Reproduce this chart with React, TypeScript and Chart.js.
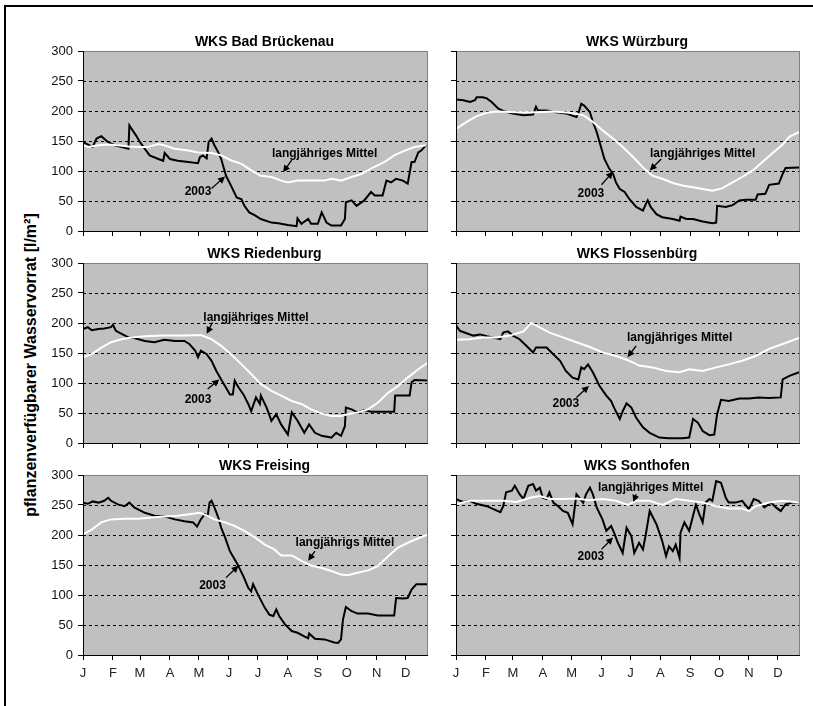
import React, { useEffect, useRef } from 'react';
import { Chart, registerables } from 'chart.js';

Chart.register(...registerables);

// ---------- axes ----------
const MONTH_START_DAYS = [0, 31, 59, 90, 120, 151, 181, 212, 243, 273, 304, 334];
const MONTH_LABELS = ['J', 'F', 'M', 'A', 'M', 'J', 'J', 'A', 'S', 'O', 'N', 'D'];
const X_MAX_DAY = 357;
const Y_MIN = 0;
const Y_MAX = 300;
const Y_STEP = 50;
const GRID_VALUES = [50, 100, 150, 200, 250];

const Y_TITLE = 'pflanzenverfügbarer Wasservorrat [l/m²]';

// ---------- data: [day of year, l/m²] ----------
type Pt = [number, number];

const brueckenau2003: Pt[] = [[0,148],[10,140],[14,154],[19,158],[26,148],[33,143],[47,137],[48,176],[52,166],[55,159],[59,148],[64,137],[69,126],[78,120],[83,117],[84.5,130],[90,120],[98,117],[109,115],[119,113],[121,123],[124,126],[128,121],[130,148],[133,154],[136,143],[140,131],[143,120],[148,92],[153,76],[159,56],[164,53],[167,42],[172,31],[178,26],[184,20],[195,14],[202,13],[212,10],[221,8],[222,21],[226,12],[233,20],[236,12],[243,12],[247,31],[252,14],[257,9],[267,9],[271,20],[272,48],[278,51],[283,42],[291,51],[298,65],[302,59],[310,59],[314,84],[319,81],[324,87],[331,84],[336,79],[340,115],[343,115],[347,131],[350,134],[355,143]];
const brueckenauMittel: Pt[] = [[0,143],[5,140],[16,143],[26,144],[36,143],[47,141],[57,140],[67,140],[78,145],[84,143],[95,137],[109,134],[119,131],[133,130],[143,126],[153,118],[164,112],[174,101],[184,92],[195,90],[205,84],[212,81],[222,84],[236,84],[250,84],[257,87],[267,84],[278,90],[288,95],[298,104],[312,115],[322,126],[333,134],[343,140],[355,143]];

const wuerzburg2003: Pt[] = [[0,219],[7.6,218],[14.5,215],[19.7,218],[21.4,223],[28,223],[32,221],[37,215],[44,204],[49,200],[59,196],[70,193],[80,194],[83,207],[85,201],[94,201],[104,198],[114,196],[125,190],[127,196],[130,212],[133,209],[139,198],[142,182],[146,165],[151,137],[154,120],[159,104],[163,95],[166,81],[170,70],[175,65],[180,53],[187,40],[194,34],[197,45],[199,51],[202,40],[208,28],[214,23],[225,20],[232,17],[233,24],[239,20],[246,20],[256,16],[266,13],[270,14],[271,42],[280,40],[287,43],[294,51],[301,52],[311,52],[313,61],[321,62],[325,77],[335,79],[339,95],[342,105],[356,106]];
const wuerzburgMittel: Pt[] = [[0,170],[11,182],[21,191],[32,197],[42,199],[63,198],[83,198],[101,199],[118,197],[132,193],[142,182],[152,168],[163,154],[173,140],[184,123],[194,106],[204,92],[214,87],[225,80],[235,76],[246,73],[256,70],[266,67],[276,71],[287,81],[297,90],[308,101],[318,115],[328,129],[339,144],[346,157],[356,165]];

const riedenburg2003: Pt[] = [[0,190],[5,193],[9,188],[16,190],[22,191],[29,193],[31,197],[34,187],[40,182],[47,176],[53,175],[64,170],[74,168],[84,172],[95,170],[105,170],[110,165],[116,154],[119,143],[122,154],[128,148],[133,137],[138,120],[143,106],[148,92],[152,81],[155,81],[157,104],[160,95],[166,81],[171,65],[174,53],[179,76],[183,65],[184,79],[190,59],[195,37],[200,48],[205,31],[212,14],[216,51],[222,37],[229,17],[234,31],[240,17],[247,12],[257,9],[262,17],[267,12],[271,28],[272,59],[278,56],[284,51],[291,55],[298,52],[322,52],[323,79],[338,79],[340,101],[343,105],[357,104]];
const riedenburgMittel: Pt[] = [[0,143],[9,148],[19,159],[29,168],[40,173],[50,176],[64,178],[84,179],[105,179],[122,180],[133,173],[143,162],[153,148],[164,131],[174,115],[184,98],[195,87],[205,79],[216,70],[226,65],[236,56],[247,49],[257,45],[267,45],[274,48],[284,51],[295,56],[305,67],[316,84],[326,95],[336,109],[347,123],[357,134]];

const flossenbuerg2003: Pt[] = [[0,196],[4,187],[11,183],[18,179],[25,181],[32,178],[46,173],[49,184],[54,186],[59,179],[66,173],[73,162],[80,151],[83,159],[94,159],[101,148],[108,137],[114,120],[121,109],[127,106],[130,126],[133,123],[137,131],[142,118],[149,95],[156,79],[161,70],[164,59],[170,40],[173,53],[177,66],[182,59],[187,42],[194,26],[201,17],[211,9],[221,8],[235,8],[242,9],[246,40],[251,34],[256,20],[263,13],[268,14],[271,48],[275,72],[283,70],[294,74],[304,74],[314,76],[325,75],[337,76],[339,106],[346,112],[356,118]];
const flossenbuergMittel: Pt[] = [[0,172],[14,173],[28,176],[42,176],[56,179],[70,186],[78,200],[83,196],[97,184],[111,176],[125,168],[139,160],[152,151],[166,145],[180,137],[190,129],[204,126],[218,120],[232,118],[242,123],[256,120],[270,126],[283,131],[297,137],[311,145],[325,157],[339,165],[356,175]];

const freising2003: Pt[] = [[0,254],[5,252],[10,256],[16,254],[22,257],[26,262],[29,257],[36,251],[43,248],[48,254],[53,246],[64,237],[74,232],[84,231],[95,226],[105,223],[114,221],[118,214],[122,226],[126,235],[129,232],[131,254],[133,257],[136,246],[140,229],[143,212],[147,196],[152,173],[157,159],[160,151],[166,131],[171,112],[174,106],[176,118],[181,101],[188,79],[193,67],[197,65],[200,76],[203,65],[209,51],[216,40],[222,37],[229,31],[233,28],[234,36],[240,27],[250,26],[260,21],[264,20],[267,26],[269,59],[272,80],[278,73],[284,69],[295,69],[305,66],[322,66],[324,95],[331,94],[336,95],[340,109],[345,118],[357,118]];
const freisingMittel: Pt[] = [[0,201],[9,209],[19,221],[29,226],[43,227],[57,227],[71,229],[84,231],[98,232],[112,235],[121,237],[129,232],[136,226],[147,221],[157,215],[167,207],[178,196],[188,184],[198,176],[205,166],[216,166],[226,157],[236,149],[247,145],[257,140],[267,134],[274,133],[284,137],[295,141],[305,148],[316,165],[326,179],[340,190],[357,201]];

const sonthofen2003: Pt[] = [[0,260],[4,257],[8,255],[14,257],[21,252],[32,248],[46,238],[49,248],[52,271],[58,274],[61,282],[66,268],[70,260],[75,282],[80,285],[83,274],[87,279],[90,262],[94,260],[97,271],[101,254],[106,248],[111,240],[116,237],[121,218],[125,268],[128,262],[132,254],[135,268],[139,279],[142,268],[146,246],[152,226],[156,207],[161,215],[164,204],[168,187],[173,170],[177,212],[182,198],[185,170],[190,187],[194,176],[197,201],[201,240],[208,218],[214,190],[218,165],[221,181],[225,173],[228,184],[232,162],[233,204],[237,221],[242,207],[246,232],[249,251],[252,237],[256,221],[259,254],[263,260],[266,257],[270,290],[275,287],[280,262],[283,254],[290,254],[297,257],[304,243],[309,260],[314,257],[320,246],[327,254],[332,246],[337,240],[342,251],[349,254],[356,254]];
const sonthofenMittel: Pt[] = [[0,251],[14,257],[35,257],[49,257],[63,255],[77,262],[87,265],[97,260],[111,260],[125,261],[138,258],[152,260],[166,257],[178,250],[187,257],[201,257],[214,250],[228,260],[242,257],[256,254],[270,248],[283,244],[297,244],[304,240],[311,248],[325,254],[339,257],[356,254]];

// ---------- panels ----------
interface Note { text: string; at: Pt; from: Pt; to: Pt }
interface Panel {
  title: string;
  mean: Pt[];
  y2003: Pt[];
  notes: Note[];
  col: number;
  row: number;
}

const PANELS: Panel[] = [
  { title: 'WKS Bad Brückenau', mean: brueckenauMittel, y2003: brueckenau2003, col: 0, row: 0,
    notes: [
      { text: 'langjähriges Mittel', at: [250, 129], from: [216, 118], to: [207, 98] },
      { text: '2003', at: [119, 65], from: [133, 71], to: [147, 91] },
    ] },
  { title: 'WKS Würzburg', mean: wuerzburgMittel, y2003: wuerzburg2003, col: 1, row: 0,
    notes: [
      { text: 'langjähriges Mittel', at: [256, 129], from: [213, 120], to: [201, 101] },
      { text: '2003', at: [140, 62], from: [151, 77], to: [163, 99] },
    ] },
  { title: 'WKS Riedenburg', mean: riedenburgMittel, y2003: riedenburg2003, col: 0, row: 1,
    notes: [
      { text: 'langjähriges Mittel', at: [179, 209], from: [134, 201], to: [128, 182] },
      { text: '2003', at: [119, 73], from: [129, 90], to: [141, 106] },
    ] },
  { title: 'WKS Flossenbürg', mean: flossenbuergMittel, y2003: flossenbuerg2003, col: 1, row: 1,
    notes: [
      { text: 'langjähriges Mittel', at: [232, 175], from: [187, 162], to: [178, 143] },
      { text: '2003', at: [114, 65], from: [125, 76], to: [138, 95] },
    ] },
  { title: 'WKS Freising', mean: freisingMittel, y2003: freising2003, col: 0, row: 2,
    notes: [
      { text: 'langjährigs Mittel', at: [271, 187], from: [240, 173], to: [233, 157] },
      { text: '2003', at: [134, 115], from: [148, 129], to: [161, 149] },
    ] },
  { title: 'WKS Sonthofen', mean: sonthofenMittel, y2003: sonthofen2003, col: 1, row: 2,
    notes: [
      { text: 'langjähriges Mittel', at: [202, 279], from: [187, 268], to: [184, 255] },
      { text: '2003', at: [140, 164], from: [151, 176], to: [163, 196] },
    ] },
];

// ---------- layout ----------
const FONT = '"Liberation Sans", Arial, Helvetica, sans-serif';
const COL_PLOT_LEFT = [83, 456];
const COL_PLOT_WIDTH = [345, 344];
const ROW_PLOT_TOP = [51, 263, 475];
const PLOT_HEIGHT = 180;
const Y_AXIS_W = 40;
const TOP_PAD = 30;
const RIGHT_PAD = 4;
const BOTTOM_H = 30;

function drawArrow(ctx: CanvasRenderingContext2D, x1: number, y1: number, x2: number, y2: number) {
  ctx.save();
  ctx.strokeStyle = '#000';
  ctx.fillStyle = '#000';
  ctx.lineWidth = 1.3;
  ctx.setLineDash([]);
  const ang = Math.atan2(y2 - y1, x2 - x1);
  const L = 7;
  const W = 3.5;
  const c = Math.cos(ang);
  const s = Math.sin(ang);
  ctx.beginPath();
  ctx.moveTo(x1, y1);
  ctx.lineTo(x2 - c * L * 0.8, y2 - s * L * 0.8);
  ctx.stroke();
  ctx.beginPath();
  ctx.moveTo(x2, y2);
  ctx.lineTo(x2 - L * c + W * s, y2 - L * s - W * c);
  ctx.lineTo(x2 - L * c - W * s, y2 - L * s + W * c);
  ctx.closePath();
  ctx.fill();
  ctx.restore();
}

function PanelChart({ panel }: { panel: Panel }) {
  const ref = useRef<HTMLCanvasElement | null>(null);
  const showY = panel.col === 0;
  const showX = panel.row === 2;
  const plotLeft = COL_PLOT_LEFT[panel.col];
  const plotW = COL_PLOT_WIDTH[panel.col];
  const plotTop = ROW_PLOT_TOP[panel.row];
  const width = Y_AXIS_W + plotW + RIGHT_PAD;
  const height = TOP_PAD + PLOT_HEIGHT + BOTTOM_H;
  const left = plotLeft - Y_AXIS_W;
  const top = plotTop - TOP_PAD;

  useEffect(() => {
    const canvas = ref.current;
    if (!canvas) return;

    const decor = {
      id: 'panelDecor',
      beforeDatasetsDraw(chart: any) {
        const { ctx, chartArea: a, scales } = chart;
        const y = scales.y;
        ctx.save();
        ctx.fillStyle = '#c0c0c0';
        ctx.fillRect(a.left, a.top, a.right - a.left, a.bottom - a.top);
        ctx.strokeStyle = '#000';
        ctx.lineWidth = 1;
        ctx.setLineDash([3, 3]);
        GRID_VALUES.forEach((v) => {
          const py = Math.round(y.getPixelForValue(v)) + 0.5;
          ctx.beginPath();
          ctx.moveTo(a.left, py);
          ctx.lineTo(a.right, py);
          ctx.stroke();
        });
        ctx.restore();
      },
      afterDatasetsDraw(chart: any) {
        const { ctx, chartArea: a } = chart;
        ctx.save();
        ctx.setLineDash([]);
        ctx.lineWidth = 1;
        ctx.strokeStyle = '#808080';
        ctx.strokeRect(a.left + 0.5, a.top + 0.5, a.right - a.left - 1, a.bottom - a.top);
        ctx.strokeStyle = '#000';
        ctx.beginPath();
        ctx.moveTo(a.left + 0.5, a.top);
        ctx.lineTo(a.left + 0.5, a.bottom + 0.5);
        ctx.lineTo(a.right, a.bottom + 0.5);
        ctx.stroke();
        ctx.restore();
      },
      afterDraw(chart: any) {
        const { ctx, chartArea: a, scales } = chart;
        const xs = scales.x;
        const ys = scales.y;
        ctx.save();
        ctx.fillStyle = '#000';
        ctx.font = `bold 14px ${FONT}`;
        ctx.textAlign = 'center';
        ctx.textBaseline = 'alphabetic';
        ctx.fillText(panel.title, (a.left + a.right) / 2 + 9, a.top - 5);
        ctx.font = `bold 12px ${FONT}`;
        ctx.textBaseline = 'middle';
        panel.notes.forEach((n) => {
          ctx.fillText(n.text, xs.getPixelForValue(n.at[0]), ys.getPixelForValue(n.at[1]));
          drawArrow(
            ctx,
            xs.getPixelForValue(n.from[0]),
            ys.getPixelForValue(n.from[1]),
            xs.getPixelForValue(n.to[0]),
            ys.getPixelForValue(n.to[1])
          );
        });
        ctx.restore();
      },
    };

    const chart = new Chart(canvas, {
      type: 'line',
      data: {
        datasets: [
          {
            label: 'langjähriges Mittel',
            data: panel.mean.map(([x, y]) => ({ x, y })),
            borderColor: '#ffffff',
            borderWidth: 2,
            pointRadius: 0,
            tension: 0,
          },
          {
            label: '2003',
            data: panel.y2003.map(([x, y]) => ({ x, y })),
            borderColor: '#000000',
            borderWidth: 2,
            pointRadius: 0,
            tension: 0,
          },
        ],
      },
      options: {
        responsive: false,
        animation: false,
        devicePixelRatio: 1,
        events: [],
        layout: { padding: { top: TOP_PAD, right: RIGHT_PAD, left: 0, bottom: 0 } },
        plugins: {
          legend: { display: false },
          tooltip: { enabled: false },
          title: { display: false },
        },
        scales: {
          x: {
            type: 'linear',
            min: 0,
            max: X_MAX_DAY,
            afterBuildTicks: (s: any) => {
              s.ticks = MONTH_START_DAYS.map((v) => ({ value: v }));
            },
            afterFit: (s: any) => {
              s.height = BOTTOM_H;
            },
            ticks: {
              autoSkip: false,
              maxRotation: 0,
              minRotation: 0,
              padding: 6,
              color: '#222',
              font: { family: FONT, size: 13 },
              callback: (_v: any, i: number) => (showX ? MONTH_LABELS[i] : ''),
            },
            grid: { drawOnChartArea: false, drawTicks: true, tickLength: 5, tickColor: '#000', tickWidth: 1 },
            border: { display: false },
          },
          y: {
            type: 'linear',
            min: Y_MIN,
            max: Y_MAX,
            afterFit: (s: any) => {
              s.width = Y_AXIS_W;
            },
            ticks: {
              stepSize: Y_STEP,
              padding: 5,
              color: '#111',
              font: { family: FONT, size: 13 },
              callback: (v: any) => (showY ? String(v) : ''),
            },
            grid: { drawOnChartArea: false, drawTicks: true, tickLength: 5, tickColor: '#000', tickWidth: 1 },
            border: { display: false },
          },
        },
      },
      plugins: [decor],
    } as any);

    return () => chart.destroy();
  }, [panel]);

  return (
    <canvas
      ref={ref}
      width={width}
      height={height}
      style={{ position: 'absolute', left, top, width, height }}
    />
  );
}

export default function App() {
  return (
    <div
      style={{
        position: 'absolute',
        left: 0,
        top: 0,
        width: 813,
        height: 706,
        overflow: 'hidden',
        background: '#fff',
      }}
    >
      <div
        style={{
          position: 'absolute',
          left: 4,
          top: 5,
          width: 809,
          height: 701,
          borderTop: '2px solid #000',
          borderLeft: '2px solid #000',
          boxSizing: 'border-box',
        }}
      />
      <div
        style={{
          position: 'absolute',
          left: 31,
          top: 365,
          transform: 'translate(-50%, -50%) rotate(-90deg)',
          whiteSpace: 'nowrap',
          font: `bold 16px ${FONT}`,
          color: '#000',
        }}
      >
        {Y_TITLE}
      </div>
      {PANELS.map((p) => (
        <PanelChart key={p.title} panel={p} />
      ))}
    </div>
  );
}
